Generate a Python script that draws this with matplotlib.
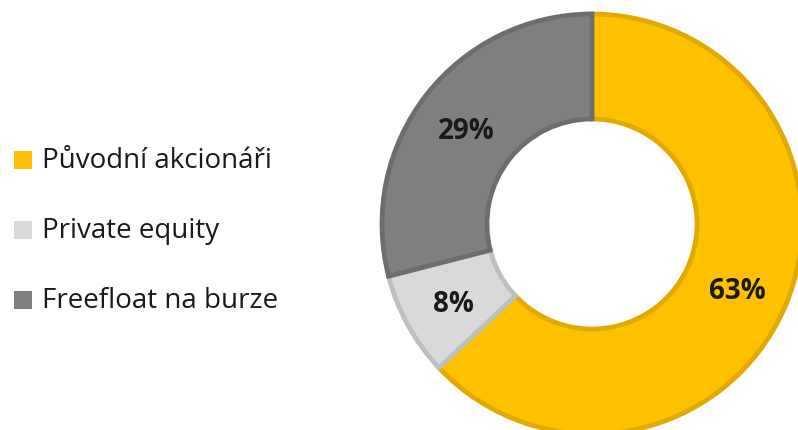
import matplotlib
matplotlib.use("Agg")
import matplotlib.pyplot as plt
from matplotlib.patches import Rectangle

# data
labels = ["Původní akcionáři", "Private equity", "Freefloat na burze"]
shares = [63, 8, 29]
colors = ["#FFC000", "#D9D9D9", "#7F7F7F"]
edge_colors = ["#E2A900", "#BFBFBF", "#6C6D70"]

W, H = 798, 430
fig = plt.figure(figsize=(W / 100, H / 100), dpi=100)

# donut: centre (592, 224) px, outer radius 210 px
cx, cy, r = 592, 224, 210
ax = fig.add_axes([(cx - r) / W, (H - cy - r) / H, 2 * r / W, 2 * r / H])
wedges, _, autotexts = ax.pie(
    shares, colors=colors, startangle=90, counterclock=False,
    radius=1, autopct="%.0f%%", pctdistance=0.755,
    wedgeprops=dict(width=0.5, linewidth=3.4),
    textprops=dict(fontsize=20, fontweight="bold", family="Open Sans", color="#1a1a1a"),
)
for w, ec in zip(wedges, edge_colors):
    w.set_edgecolor(ec)
    w.set_clip_on(False)
for t in autotexts:
    x, y = t.get_position()
    t.set_position((x, y - 0.02))
ax.set_xlim(-1, 1)
ax.set_ylim(-1, 1)
ax.set_aspect("equal")
ax.axis("off")

# legend on the left, drawn in pixel coords
lg = fig.add_axes([0, 0, 1, 1], zorder=-1)
lg.set_xlim(0, W)
lg.set_ylim(H, 0)
lg.axis("off")
rows = [160, 230, 300]
for y, lab, c in zip(rows, labels, colors):
    lg.add_patch(Rectangle((14, y - 9), 18, 18, facecolor=c, edgecolor="none"))
    lg.text(42, y + 1, lab, fontsize=20, family="Open Sans", color="#1a1a1a",
            va="center", ha="left")

fig.savefig("out.png", dpi=100)
